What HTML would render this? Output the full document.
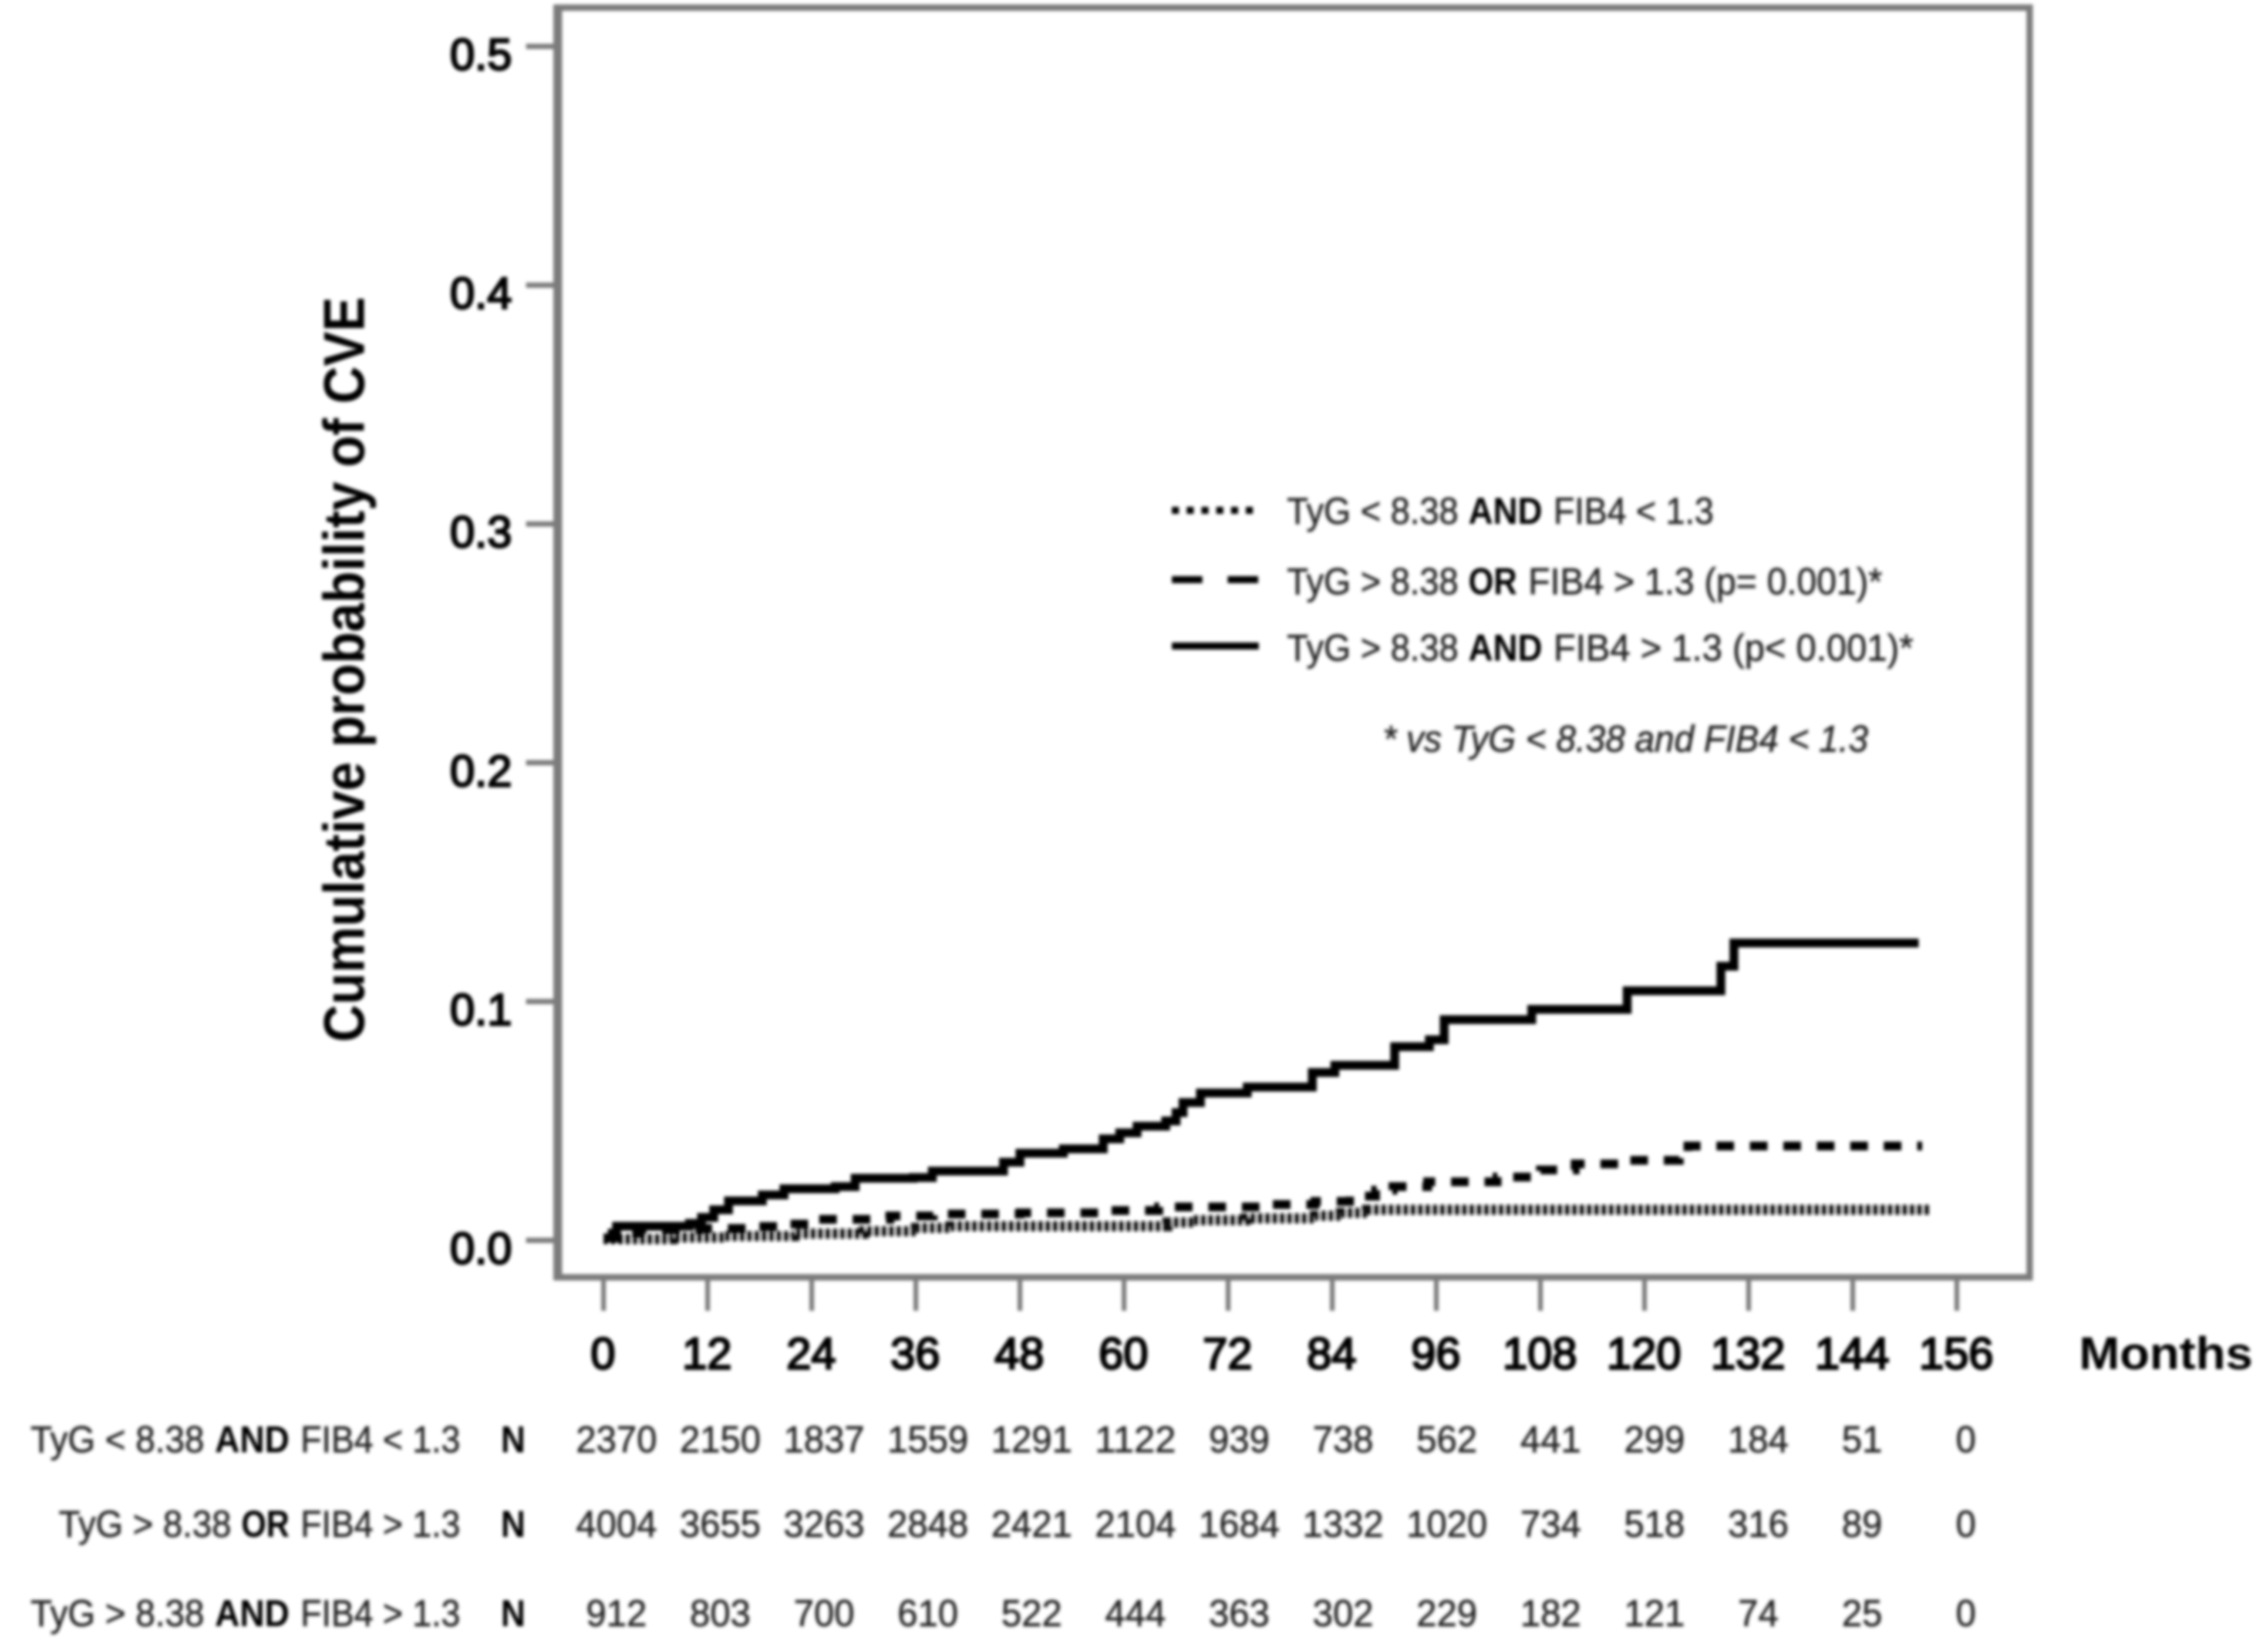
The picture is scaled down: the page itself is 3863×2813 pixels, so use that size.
<!DOCTYPE html>
<html lang="en">
<head>
<meta charset="utf-8">
<title>Cumulative probability of CVE</title>
<style>
html,body{margin:0;padding:0;background:#fff;}
svg{display:block;}
text{font-family:"Liberation Sans",sans-serif;}
.tick{font-size:76px;fill:#000;stroke:#000;stroke-width:3.2px;}
.cal{font-size:64px;fill:#262626;stroke:#262626;stroke-width:0.8px;}
.calb{font-size:64px;fill:#000;font-weight:700;}
</style>
</head>
<body>
<svg id="chart" xmlns="http://www.w3.org/2000/svg" width="3863" height="2813" viewBox="0 0 3863 2813">
  <defs>
    <filter id="soft" filterUnits="userSpaceOnUse" x="0" y="0" width="3863" height="2813">
      <feGaussianBlur stdDeviation="2.8"/>
    </filter>
  </defs>
  <rect width="3863" height="2813" fill="#ffffff"/>
  <g filter="url(#soft)">
    <g id="axes">
      <rect x="950" y="13" width="2507" height="2162" fill="none" stroke="#7c7c7c" stroke-width="11"/>
      <line x1="950" y1="8" x2="950" y2="2180" stroke="#7c7c7c" stroke-width="15"/>
    </g>
    <g id="series" fill="none" stroke="#000"></g>

    <text transform="translate(620,1140) rotate(-90)" text-anchor="middle" font-size="98" font-weight="700" fill="#000" textLength="1269" lengthAdjust="spacingAndGlyphs">Cumulative probability of CVE</text>
    <text x="3541" y="2331" font-size="78" font-weight="700" fill="#000" textLength="296" lengthAdjust="spacingAndGlyphs">Months</text>

    <g id="legend">
      <line x1="1996" y1="869" x2="2144" y2="869" stroke="#000" stroke-width="12" stroke-dasharray="12 13.2"/>
      <line x1="1996" y1="987" x2="2144" y2="987" stroke="#000" stroke-width="12" stroke-dasharray="52 43"/>
      <line x1="1996" y1="1100" x2="2144" y2="1100" stroke="#000" stroke-width="12"/>
      <g>
        <text class="cal" x="2192" y="892" textLength="292" lengthAdjust="spacingAndGlyphs">TyG &lt; 8.38</text>
        <text class="calb" x="2501" y="892" textLength="126" lengthAdjust="spacingAndGlyphs">AND</text>
        <text class="cal" x="2646" y="892" textLength="273" lengthAdjust="spacingAndGlyphs">FIB4 &lt; 1.3</text>
      </g>
      <g>
        <text class="cal" x="2192" y="1012" textLength="292" lengthAdjust="spacingAndGlyphs">TyG &gt; 8.38</text>
        <text class="calb" x="2501" y="1012" textLength="83" lengthAdjust="spacingAndGlyphs">OR</text>
        <text class="cal" x="2603" y="1012" textLength="603" lengthAdjust="spacingAndGlyphs">FIB4 &gt; 1.3 (p= 0.001)*</text>
      </g>
      <g>
        <text class="cal" x="2192" y="1125" textLength="292" lengthAdjust="spacingAndGlyphs">TyG &gt; 8.38</text>
        <text class="calb" x="2501" y="1125" textLength="126" lengthAdjust="spacingAndGlyphs">AND</text>
        <text class="cal" x="2646" y="1125" textLength="613" lengthAdjust="spacingAndGlyphs">FIB4 &gt; 1.3 (p&lt; 0.001)*</text>
      </g>
      <text class="cal" font-style="italic" x="2355" y="1280" textLength="827" lengthAdjust="spacingAndGlyphs">* vs TyG &lt; 8.38 and FIB4 &lt; 1.3</text>
    </g>

    <g id="risk">
      <g>
        <text class="cal" x="52" y="2473" textLength="296" lengthAdjust="spacingAndGlyphs">TyG &lt; 8.38</text>
        <text class="calb" x="366" y="2473" textLength="127" lengthAdjust="spacingAndGlyphs">AND</text>
        <text class="cal" x="512" y="2473" textLength="272" lengthAdjust="spacingAndGlyphs">FIB4 &lt; 1.3</text>
        <text class="calb" x="853" y="2473" textLength="42" lengthAdjust="spacingAndGlyphs">N</text>
      </g>
      <g>
        <text class="cal" x="100" y="2617" textLength="294" lengthAdjust="spacingAndGlyphs">TyG &gt; 8.38</text>
        <text class="calb" x="411" y="2617" textLength="82" lengthAdjust="spacingAndGlyphs">OR</text>
        <text class="cal" x="512" y="2617" textLength="272" lengthAdjust="spacingAndGlyphs">FIB4 &gt; 1.3</text>
        <text class="calb" x="853" y="2617" textLength="42" lengthAdjust="spacingAndGlyphs">N</text>
      </g>
      <g>
        <text class="cal" x="52" y="2769" textLength="296" lengthAdjust="spacingAndGlyphs">TyG &gt; 8.38</text>
        <text class="calb" x="366" y="2769" textLength="127" lengthAdjust="spacingAndGlyphs">AND</text>
        <text class="cal" x="512" y="2769" textLength="272" lengthAdjust="spacingAndGlyphs">FIB4 &gt; 1.3</text>
        <text class="calb" x="853" y="2769" textLength="42" lengthAdjust="spacingAndGlyphs">N</text>
      </g>
    </g>
  </g>
</svg>
<script>
// ---- chart data ----
const monthTicks = [0,12,24,36,48,60,72,84,96,108,120,132,144,156];
const probTicks = [0,0.1,0.2,0.3,0.4,0.5];

const lowTimes  = [0,8,14,22,30,36,40,63,65,68,74,82,85,88,153];
const lowValues = [0.0005,0.0012,0.0018,0.0028,0.0038,0.0052,0.0059,0.0059,0.0075,0.0084,0.0092,0.0103,0.0115,0.0128,0.0128];

const orTimes  = [0,1,4,11,17,21,24,33,38,48,58,64,76,82,86,89,91,95,103,108,112,118,124,125,152];
const orValues = [0.001,0.003,0.0045,0.005,0.0058,0.0068,0.0088,0.0102,0.011,0.0115,0.0125,0.014,0.015,0.0163,0.0185,0.021,0.0225,0.0245,0.0265,0.0295,0.032,0.0335,0.0345,0.0395,0.0395];

const andTimes  = [0,1.5,9.9,11.3,12.7,14.4,18.3,20.8,26.7,29,35.7,37.9,46.1,48,53,57.6,59.5,61.5,64.8,66,66.8,68.8,74.2,81.7,84.3,91.2,95.2,96.9,107,118,128.8,130.3,151.6];
const andValues = [0.001,0.0059,0.0071,0.0096,0.0128,0.0165,0.019,0.0216,0.0225,0.026,0.0263,0.029,0.0327,0.0365,0.0383,0.0425,0.045,0.0478,0.05,0.0535,0.0577,0.0617,0.0642,0.0703,0.0733,0.0811,0.084,0.0924,0.0967,0.1045,0.1148,0.1245,0.1245];

const riskLow = ["2370","2150","1837","1559","1291","1122","939","738","562","441","299","184","51","0"];
const riskOr  = ["4004","3655","3263","2848","2421","2104","1684","1332","1020","734","518","316","89","0"];
const riskAnd = ["912","803","700","610","522","444","363","302","229","182","121","74","25","0"];

// ---- axis functions ----
function xScale(m){ return 1028 + m * (3333 - 1028) / 156; }
function yScale(p){ return 2112 - p * 4066; }
function riskX(i){ return 1050 + i * 176.8; }

const NS = 'http://www.w3.org/2000/svg';
function make(tag, attrs, text){
  const el = document.createElementNS(NS, tag);
  for (const k in attrs) el.setAttribute(k, attrs[k]);
  if (text !== undefined) el.textContent = text;
  return el;
}
function stepPath(times, values){
  let d = 'M' + xScale(times[0]).toFixed(1) + ' ' + yScale(values[0]).toFixed(1);
  for (let i = 1; i < times.length; i++){
    d += 'H' + xScale(times[i]).toFixed(1) + 'V' + yScale(values[i]).toFixed(1);
  }
  return d;
}

const axes = document.getElementById('axes');
const seriesGroup = document.getElementById('series');
const risk = document.getElementById('risk');

monthTicks.forEach(function(m){
  const tick = make('line', {x1:xScale(m), x2:xScale(m), y1:2175, y2:2232, stroke:'#7c7c7c', 'stroke-width':8});
  
  
  axes.appendChild(tick);
  const label = make('text', {x:xScale(m) - 1, y:2331, 'text-anchor':'middle', class:'tick'}, String(m));
  
  
  axes.appendChild(label);
});

probTicks.forEach(function(p){
  const tick = make('line', {x1:896, x2:950, y1:yScale(p), y2:yScale(p), stroke:'#7c7c7c', 'stroke-width':9});
  
  
  axes.appendChild(tick);
  const label = make('text', {x:872, y:yScale(p) + 40, 'text-anchor':'end', class:'tick'}, p.toFixed(1));
  
  
  axes.appendChild(label);
});

const lowLine = make('path', {d:stepPath(lowTimes, lowValues), 'stroke-width':17, 'stroke-dasharray':'7.5 5', stroke:'#111'});


seriesGroup.appendChild(lowLine);

const orLine = make('path', {d:stepPath(orTimes, orValues), 'stroke-width':15, 'stroke-dasharray':'30 27'});


seriesGroup.appendChild(orLine);

const andLine = make('path', {d:stepPath(andTimes, andValues), 'stroke-width':15});


seriesGroup.appendChild(andLine);

function riskRow(values, baseline){
  values.forEach(function(v, i){
    const cell = make('text', {x:riskX(i) - (v.length * 17.25), y:baseline, class:'cal', textLength:v.length * 34.5, lengthAdjust:'spacingAndGlyphs'}, v);
    
    
    risk.appendChild(cell);
  });
}
riskRow(riskLow, 2473);
riskRow(riskOr, 2617);
riskRow(riskAnd, 2769);
</script>
</body>
</html>
